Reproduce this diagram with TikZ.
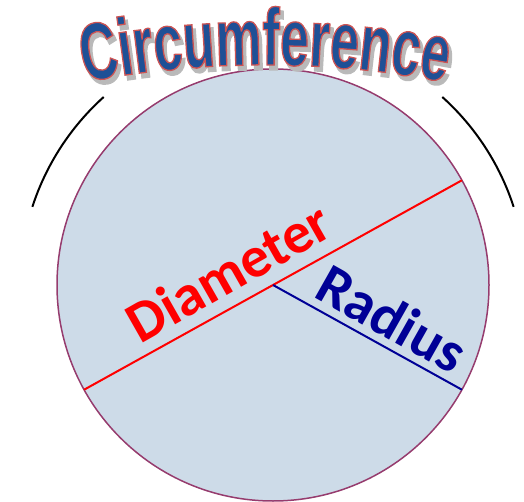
\documentclass[tikz,border=0pt]{standalone}
\usepackage{fontspec}
\usetikzlibrary{decorations.text,calc}
\newfontfamily\circfont[FakeStretch=0.64]{Liberation Sans Bold}
\newfontfamily\carlito{Carlito}
\definecolor{circblue}{RGB}{30,80,150}
\definecolor{shadowgray}{RGB}{185,185,185}
\definecolor{diskfill}{RGB}{205,219,232}
\definecolor{diskline}{RGB}{150,60,110}
\definecolor{diamred}{RGB}{255,0,0}
\definecolor{radnavy}{RGB}{0,0,150}
\newcommand\outlinered{\special{pdf:literal direct 0.80 0.33 0.33 RG 2 Tr 1.3 w}}
\newcommand\outlinegray{\special{pdf:literal direct 0.73 0.73 0.73 RG 2 Tr 2.0 w}}
\newcommand\outlineoff{\special{pdf:literal direct 0 Tr}}
\newcommand\circtext[3]{%
  \begin{scope}[shift={#1}]
  \path[decorate,decoration={text along path,text align=center,
    text={|\circfont\fontsize{81}{81}\selectfont\color{#2}#3|Circumference}}]
    (265,-535) ++(105:971) arc[start angle=105,end angle=75,radius=971];
  \end{scope}}
\begin{document}
\begin{tikzpicture}[x=1pt,y=1pt,
  disk/.style={circle,draw=diskline,fill=diskfill,line width=1.5pt,inner sep=0pt,outer sep=0pt,minimum size=432pt},
  diamline/.style={draw=diamred,line width=2pt},
  radline/.style={draw=radnavy,line width=2pt},
  bracket/.style={draw=black,line width=2pt},
  lbl/.style={inner sep=0pt,font=\carlito\bfseries\fontsize{58}{58}\selectfont}]
\useasboundingbox (0,0) rectangle (524,501);
\node[disk] (O) at (273,216) {};
\coordinate (c) at (273,216);
\draw[diamline] (O.209.6) -- (O.29.6);
\draw[radline] (O.center) -- (O.-29.4);
\draw[bracket] ($(c)+(132:253)$) arc[start angle=132,end angle=162,radius=253];
\draw[bracket] ($(c)+(48:253)$) arc[start angle=48,end angle=18,radius=253];
\node[lbl,text=diamred,rotate=29.6] (diam) at (228,229) {Diameter};
\node[lbl,text=radnavy,rotate=-29.4] (rad) at (392,183) {Radius};
\circtext{(3,-4.5)}{shadowgray}{\outlinegray}
\circtext{(0,0)}{circblue}{\outlinered}
\outlineoff
\end{tikzpicture}
\end{document}
